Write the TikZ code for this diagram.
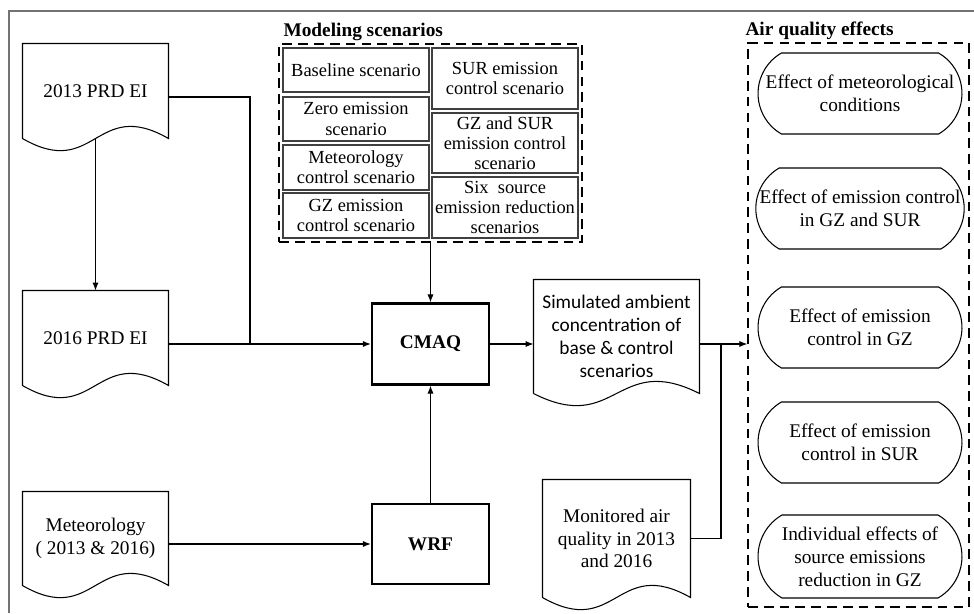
\documentclass[tikz,border=0pt]{standalone}
\usepackage{fontspec}
\setmainfont{Liberation Serif}
\newfontfamily\calibri{Carlito}
\usepackage{tikz}
\usetikzlibrary{calc}
\usetikzlibrary{fit}
\usetikzlibrary{arrows.meta}
\usetikzlibrary{shapes.misc}
\newcommand{\mainsize}{\fontsize{11}{13}\selectfont}

\tikzset{
  doc/.style={minimum width=2.9cm, minimum height=1.88cm, align=center, inner sep=0pt},
  model/.style={draw, line width=1.3pt, minimum width=2.34cm, minimum height=1.62cm, font=\mainsize\bfseries},
  scenbox/.style={draw=black!75, line width=1.1pt, minimum width=2.92cm, align=center, inner sep=0pt, font=\fontsize{10.5}{11.5}\selectfont},
  effect/.style={draw, rounded rectangle, rounded rectangle arc length=120, minimum width=4.08cm, minimum height=1.62cm, align=center, inner sep=0pt},
  group/.style={draw, dash pattern=on 5.5pt off 3.5pt, line width=0.8pt},
  title/.style={font=\mainsize\bfseries, inner sep=0pt, anchor=base west},
}

\begin{document}
\begin{tikzpicture}[x=0.02cm, y=-0.02cm, line width=0.6pt, font=\mainsize,
    >={Latex[length=4.5pt,width=3.5pt]}]
    \useasboundingbox (0,0) rectangle (974,613);
    \draw[black!55, line width=0.8pt] (9,613) -- (9,11) -- (974,11);

    % inputs
    \node[doc] (e13) at (95.5,91) {2013 PRD EI};
    \node[doc] (e16) at (95.5,338) {2016 PRD EI};
    \node[doc, minimum height=1.86cm] (met) at (95.5,538.5) {Meteorology\\( 2013 \& 2016)};

    % models
    \node[model] (cmaq) at (430.5,344) {CMAQ};
    \node[model, minimum height=1.6cm] (wrf) at (430.5,544) {WRF};

    % outputs
    \node[doc, minimum width=3.3cm, minimum height=2.26cm, font=\calibri\mainsize] (sim) at (616.5,336.5)
      {Simulated ambient\\concentration of\\base \& control\\scenarios};
    \node[doc, minimum width=2.94cm, minimum height=2.34cm] (mon) at (616.5,538.5)
      {Monitored air\\quality in 2013\\and 2016};

    \foreach \d in {e13,e16,met,sim,mon}
      \draw (\d.south west) -- (\d.north west) -- (\d.north east) -- (\d.south east)
        .. controls ($(\d.south)+(0,-42)$) and ($(\d.south)+(0,42)$) .. (\d.south west);

    % scenarios
    \node[scenbox, minimum height=0.88cm] (b1) at (356,70) {Baseline scenario};
    \node[scenbox, minimum height=0.88cm] (b2) at (356,119) {Zero emission\\scenario};
    \node[scenbox, minimum height=0.9cm] (b3) at (356,167.5) {Meteorology\\control scenario};
    \node[scenbox, minimum height=0.9cm] (b4) at (356,215.5) {GZ emission\\control scenario};
    \node[scenbox, minimum height=1.22cm] (s1) at (505,78.5) {SUR emission\\control scenario};
    \node[scenbox, minimum height=1.2cm] (s2) at (505,143) {GZ and SUR\\emission control\\scenario};
    \node[scenbox, minimum height=1.22cm] (s3) at (505,207.5) {Six\ \ source\\emission reduction\\scenarios};
    \node[group, fit=(b1)(b4)(s1)(s3), inner sep=0.06cm] (scen) {};
    \node[title] (mt) at (283,36) {Modeling scenarios};

    % effects
    \node[group, minimum width=4.42cm, minimum height=11.28cm] (eff) at (858.5,325) {};
    \node[title] (at) at (745,35) {Air quality effects};
    \node[effect] (f1) at (860,93.5) {Effect of meteorological\\conditions};
    \node[effect] (f2) at (860,208.5) {Effect of emission control\\in GZ and SUR};
    \node[effect] (f3) at (860,327.5) {Effect of emission\\control in GZ};
    \node[effect] (f4) at (860,442.5) {Effect of emission\\control in SUR};
    \node[effect, minimum height=1.66cm] (f5) at (860,556.5) {Individual effects of\\source emissions\\reduction in GZ};

    % connectors
    \coordinate (jn) at (250,344);
    \coordinate (jx) at (721,344);
    \path [->] (e13) edge (e16);
    \draw ([yshift=-0.12cm]e13.east) -| (jn);
    \draw [->] (e16.east |- jn) -- (cmaq);
    \draw [->] (met.east |- wrf) -- (wrf);
    \path [->] (wrf) edge (cmaq);
    \path [->] (scen) edge (cmaq);
    \path [->] (cmaq) edge (sim.west |- cmaq);
    \draw [->] (sim.east |- cmaq) -- (eff.west |- cmaq);
    \draw (mon.east) -| (jx);
\end{tikzpicture}
\end{document}
